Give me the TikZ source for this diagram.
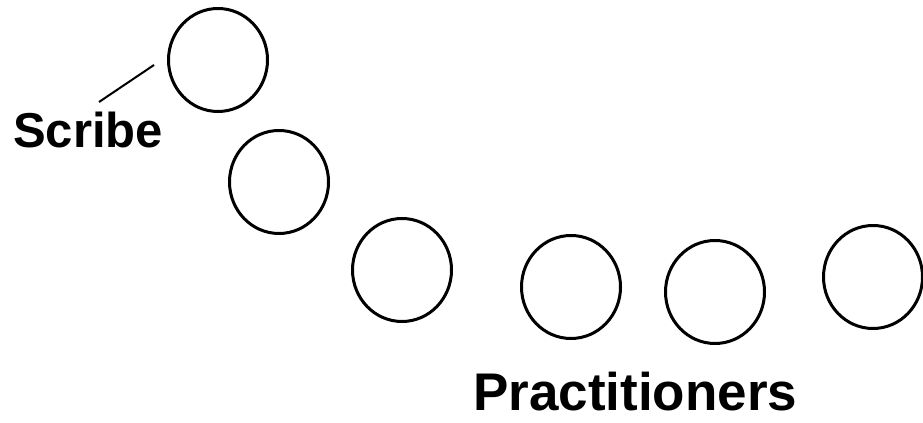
\documentclass[tikz,border=0pt]{standalone}
\usepackage{fontspec}
\setmainfont{Liberation Sans}
\usetikzlibrary{shapes.geometric}
\begin{document}
\begin{tikzpicture}[x=0.75pt,y=-0.75pt,
  person/.style={ellipse,draw,line width=2.25pt,inner sep=0pt,minimum width=74.25pt,minimum height=77.25pt},
  bigtext/.style={font=\bfseries\fontsize{36.75}{44}\selectfont,inner sep=0pt,anchor=base west}]
\useasboundingbox (0,0) rectangle (923,423);
\foreach \i/\x/\y in {1/218/60,2/279/182,3/402/270,4/571/287,5/715/292,6/873/277} \node[person] (p\i) at (\x,\y) {};
\node[bigtext] (scribe) at (13,148) {Scribe};
\node[bigtext,font=\bfseries\fontsize{39.75}{48}\selectfont] (practitioners) at (473,410) {Practitioners};
\coordinate (pointer) at (154,65);
\coordinate (foot) at (99,102);
\draw[line width=1.5pt] (foot) -- (pointer);
\end{tikzpicture}
\end{document}
